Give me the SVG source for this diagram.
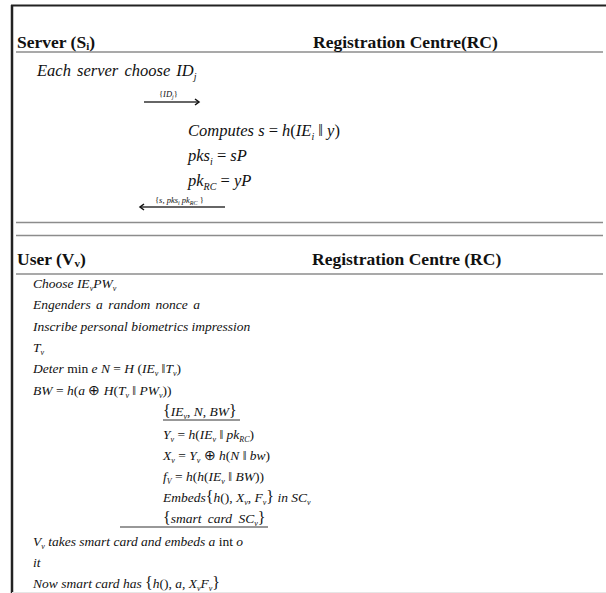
<svg xmlns="http://www.w3.org/2000/svg" width="606" height="593" viewBox="0 0 606 593">
<style>
text{font-family:"Liberation Serif","Times New Roman",serif;fill:#111}
.h{font-weight:bold;font-size:17.5px}
.m{font-style:italic;font-size:16.5px}
.b{font-style:italic;font-size:13.5px}
.u{font-style:normal}
.lab{font-style:italic;font-size:8.5px}
.sep{stroke:#8c8c8c;stroke-width:1.5;fill:none}
.arr{stroke:#333;stroke-width:1.3;fill:none}
</style>
<defs>
<marker id="ah" markerWidth="8" markerHeight="8" refX="6" refY="4" orient="auto" markerUnits="userSpaceOnUse">
<path d="M2,1 L6,4 L2,7" fill="none" stroke="#111" stroke-width="1.5"/>
</marker>
</defs>
<g id="frame">
<line x1="11" y1="5.5" x2="606" y2="5.5" stroke="#222" stroke-width="2.2"/>
<line x1="12" y1="5" x2="12" y2="593" stroke="#222" stroke-width="2.5"/>
<line x1="12" y1="592.5" x2="606" y2="592.5" stroke="#e6e6e6" stroke-width="1"/>
<line class="sep" x1="16" y1="52" x2="603" y2="52"/>
<line class="sep" x1="16" y1="222.5" x2="603" y2="222.5"/>
<line class="sep" x1="16" y1="235.5" x2="603" y2="235.5"/>
<line class="sep" x1="16" y1="274" x2="603" y2="274"/>
</g>
<g id="server-header">
<text class="h" x="17" y="47.5">Server (S<tspan font-size="11" dy="2">i</tspan><tspan dy="-2">)</tspan></text>
<text class="h" x="313" y="47.5">Registration Centre(RC)</text>
</g>
<g id="server-steps">
<text class="m" x="37" y="76" word-spacing="2">Each server choose ID<tspan font-size="10" dy="4">j</tspan></text>
<text class="m" x="188" y="136">Computes s <tspan class="u">= </tspan>h<tspan class="u">(</tspan>IE<tspan font-size="10" dy="4">i</tspan><tspan class="u" dy="-4"> ‖ </tspan>y<tspan class="u">)</tspan></text>
<text class="m" x="188" y="161">pks<tspan font-size="10" dy="4">i</tspan><tspan class="u" dy="-4"> = </tspan>sP</text>
<text class="m" x="188" y="186">pk<tspan font-size="10" dy="4">RC</tspan><tspan class="u" dy="-4"> = </tspan>yP</text>
</g>
<g id="connectors">
<line class="arr" x1="144" y1="102" x2="199" y2="102" marker-end="url(#ah)"/>
<line class="arr" x1="225" y1="207" x2="140" y2="207" marker-end="url(#ah)"/>
<line x1="120" y1="527" x2="268" y2="527" stroke="#333" stroke-width="1.2"/>
<line x1="163" y1="420" x2="240" y2="420" stroke="#333" stroke-width="1"/>
</g>
<g id="arrow-labels">
<text class="lab" x="159" y="97"><tspan class="u">{</tspan>ID<tspan font-size="6" dy="2">j</tspan><tspan class="u" dy="-2">}</tspan></text>
<text class="lab" x="155" y="203"><tspan class="u">{</tspan>s<tspan class="u">, </tspan>pks<tspan font-size="6" dy="2">i</tspan><tspan dy="-2"> pk</tspan><tspan font-size="6" dy="2">RC</tspan><tspan class="u" dy="-2"> }</tspan></text>
</g>
<g id="user-header">
<text class="h" x="17" y="265">User (V<tspan font-size="11" dy="2">v</tspan><tspan dy="-2">)</tspan></text>
<text class="h" x="312" y="265">Registration Centre (RC)</text>
</g>
<g id="user-steps">
<text class="b" x="33" y="288">Choose IE<tspan font-size="8" dy="3">v</tspan><tspan dy="-3">PW</tspan><tspan font-size="8" dy="3">v</tspan></text>
<text class="b" x="33" y="309" word-spacing="2">Engenders a random nonce a</text>
<text class="b" x="33" y="331">Inscribe  personal biometrics impression</text>
<text class="b" x="33" y="352">T<tspan font-size="8" dy="3">v</tspan></text>
<text class="b" x="33" y="373">Deter<tspan class="u"> min </tspan>e N <tspan class="u"> =  </tspan>H<tspan class="u"> (</tspan>IE<tspan font-size="8" dy="3">v</tspan><tspan class="u" dy="-3">  ‖</tspan>T<tspan font-size="8" dy="3">v</tspan><tspan class="u" dy="-3">)</tspan></text>
<text class="b" x="33" y="395">BW <tspan class="u"> =  </tspan>h<tspan class="u">(</tspan>a <tspan class="u">⊕ </tspan>H<tspan class="u">(</tspan>T<tspan font-size="8" dy="3">v</tspan><tspan class="u" dy="-3">  ‖  </tspan>PW<tspan font-size="8" dy="3">v</tspan><tspan class="u" dy="-3">))</tspan></text>
</g>
<g id="rc-steps">
<text class="b" x="163" y="416"><tspan class="u" font-size="16">{</tspan>IE<tspan font-size="8" dy="3">v</tspan><tspan class="u" dy="-3">, </tspan>N<tspan class="u">, </tspan>BW<tspan class="u" font-size="16">}</tspan></text>
<text class="b" x="163" y="439">Y<tspan font-size="8" dy="3">v</tspan><tspan class="u" dy="-3">  =  </tspan>h<tspan class="u">(</tspan>IE<tspan font-size="8" dy="3">v</tspan><tspan class="u" dy="-3">  ‖  </tspan>pk<tspan font-size="8" dy="3">RC</tspan><tspan class="u" dy="-3">)</tspan></text>
<text class="b" x="163" y="460">X<tspan font-size="8" dy="3">v</tspan><tspan class="u" dy="-3">  =  </tspan>Y<tspan font-size="8" dy="3">v</tspan><tspan class="u" dy="-3">  ⊕  </tspan>h<tspan class="u">(</tspan>N<tspan class="u">  ‖  </tspan>bw<tspan class="u">)</tspan></text>
<text class="b" x="163" y="481">f<tspan font-size="8" dy="3">V</tspan><tspan class="u" dy="-3">  =  </tspan>h<tspan class="u">(</tspan>h<tspan class="u">(</tspan>IE<tspan font-size="8" dy="3">v</tspan><tspan class="u" dy="-3">  ‖  </tspan>BW<tspan class="u">))</tspan></text>
<text class="b" x="163" y="502">Embeds<tspan class="u" font-size="16">{</tspan>h<tspan class="u">(), </tspan>X<tspan font-size="8" dy="3">v</tspan><tspan class="u" dy="-3">, </tspan>F<tspan font-size="8" dy="3">v</tspan><tspan class="u" dy="-3" font-size="16">}</tspan>  in  SC<tspan font-size="8" dy="3">v</tspan></text>
<text class="b" x="163" y="523" word-spacing="3"><tspan class="u" font-size="16">{</tspan>smart card SC<tspan font-size="8" dy="3">v</tspan><tspan class="u" dy="-3" font-size="16">}</tspan></text>
</g>
<g id="user-final">
<text class="b" x="33" y="546">V<tspan font-size="8" dy="3">v</tspan><tspan dy="-3"> takes smart card and embeds a</tspan><tspan class="u"> int </tspan>o</text>
<text class="b" x="33" y="567">it</text>
<text class="b" x="33" y="588">Now smart card has <tspan class="u" font-size="16">{</tspan>h<tspan class="u">(), </tspan>a<tspan class="u">, </tspan>X<tspan font-size="8" dy="3">v</tspan><tspan dy="-3">F</tspan><tspan font-size="8" dy="3">v</tspan><tspan class="u" dy="-3" font-size="16">}</tspan></text>
</g>
</svg>
